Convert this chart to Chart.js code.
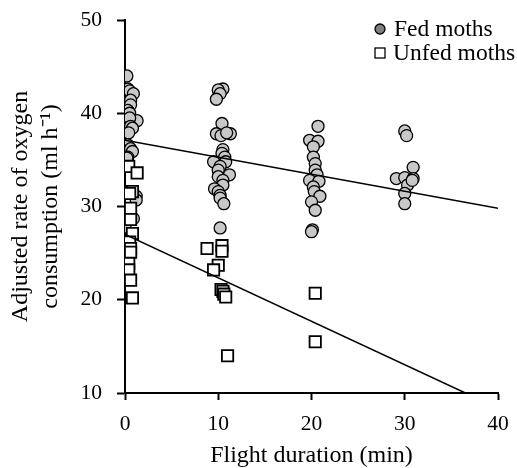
<!DOCTYPE html>
<html>
<head>
<meta charset="utf-8">
<script src="https://cdn.jsdelivr.net/npm/chart.js@4.4.1/dist/chart.umd.min.js"></script>
<style>
  html, body { margin: 0; padding: 0; background: #fff; }
  #wrap { width: 517px; height: 468px; }
</style>
</head>
<body>
<div id="wrap"><canvas id="moths"></canvas></div>
<script>
// values
const fedX = [0.2, 0.3, 0.5, 0.9, 0.6, 0.6, 0.3, 0.5, 1.3, 0.5, 0.6, 0.8, 0.4, 0.3, 0.6, 0.8, 0.3, 0.2, 1.2, 1.2, 0.9, 0.0,
  10.5, 10.0, 10.2, 9.8, 10.4, 9.8, 10.3, 11.3, 10.9, 10.5, 10.4, 10.7, 9.5, 10.8, 10.2, 10.0, 11.2, 10.0, 10.5, 10.5, 9.6, 10.0, 10.2, 10.2, 10.6, 10.2,
  20.7, 19.8, 20.7, 20.2, 20.2, 20.4, 20.4, 20.6, 19.8, 20.8, 20.2, 20.3, 20.9, 20.0, 20.4, 20.1, 20.0,
  30.0, 30.2, 30.9, 29.1, 30.0, 30.9, 30.3, 30.0, 30.0, 30.8];
const fedY = [44.0, 42.6, 42.4, 42.1, 41.4, 40.9, 40.3, 40.0, 39.2, 39.5, 38.6, 38.4, 37.9, 36.6, 36.2, 35.9, 35.3, 35.2, 31.1, 30.7, 28.7, 27.8,
  42.6, 42.5, 42.1, 41.5, 38.9, 37.8, 37.6, 37.8, 37.9, 36.1, 35.7, 35.3, 34.8, 34.8, 34.3, 33.9, 33.4, 33.2, 32.8, 32.3, 31.9, 31.6, 31.2, 30.9, 30.3, 27.7,
  38.6, 37.1, 37.0, 36.4, 35.3, 34.6, 33.9, 33.4, 32.8, 32.7, 32.1, 31.6, 31.1, 30.5, 29.6, 27.5, 27.3,
  38.1, 37.6, 34.2, 33.0, 33.1, 33.0, 32.3, 31.4, 30.3, 32.8];

const unfedX = [0.4, 1.3, 0.8, 0.5, 0.6, 0.6, 0.8, 0.5, 0.6, 0.6, 0.4, 0.4, 0.6, 0.8,
  8.8, 10.4, 10.4, 10.0, 9.5, 10.3, 10.5, 10.6, 10.8, 11.0,
  20.4, 20.4];
const unfedY = [34.3, 33.6, 31.6, 31.4, 29.8, 28.6, 27.1, 26.2, 25.5, 25.1, 23.9, 23.2, 22.1, 20.2,
  25.5, 25.8, 25.2, 23.7, 23.2, 21.1, 20.9, 20.6, 20.3, 14.0,
  20.7, 15.5];

// regression lines (end points)
const fedFitX = [0, 40];
const fedFitY = [37.1, 29.8];
const unfedFitX = [0, 36.5];
const unfedFitY = [27.0, 10];

const xTicks = [0, 10, 20, 30, 40];
const yTicks = [10, 20, 30, 40, 50];

const toPoints = (xs, ys) => xs.map((x, i) => ({ x: x, y: ys[i] }));
const serif = 'Liberation Serif, Times New Roman, serif';

// legend drawn inside the plot, top right
const cornerLegend = {
  id: 'cornerLegend',
  afterDraw(chart) {
    const ctx = chart.ctx;
    const ds = chart.data.datasets;
    ctx.save();
    ctx.font = '23.5px ' + serif;
    ctx.textBaseline = 'middle';
    ctx.lineWidth = 1.3;
    ctx.strokeStyle = '#000';
    // fed
    ctx.beginPath();
    ctx.arc(380, 29, 5, 0, Math.PI * 2);
    ctx.fillStyle = '#808080';
    ctx.fill();
    ctx.stroke();
    ctx.fillStyle = '#000';
    ctx.fillText(ds[2].label, 394, 30);
    // unfed
    ctx.fillStyle = '#fff';
    ctx.fillRect(375, 48, 10, 10);
    ctx.strokeRect(375, 48, 10, 10);
    ctx.fillStyle = '#000';
    ctx.fillText(ds[3].label, 393, 54);
    ctx.restore();
  }
};

new Chart(document.getElementById('moths'), {
  type: 'scatter',
  data: {
    datasets: [
      {
        type: 'line',
        label: 'fed fit',
        data: toPoints(fedFitX, fedFitY),
        borderColor: '#000',
        borderWidth: 1.5,
        pointRadius: 0,
        fill: false,
        order: 0
      },
      {
        type: 'line',
        label: 'unfed fit',
        data: toPoints(unfedFitX, unfedFitY),
        borderColor: '#000',
        borderWidth: 1.5,
        pointRadius: 0,
        fill: false,
        order: 0
      },
      {
        label: 'Fed moths',
        data: toPoints(fedX, fedY),
        pointStyle: 'circle',
        pointRadius: 6,
        backgroundColor: '#c8c8c8',
        borderColor: '#000',
        borderWidth: 1.3,
        order: 2
      },
      {
        label: 'Unfed moths',
        data: toPoints(unfedX, unfedY),
        pointStyle: 'rect',
        pointRadius: 8,
        backgroundColor: '#fff',
        borderColor: '#000',
        borderWidth: 1.8,
        order: 1
      }
    ]
  },
  options: {
    responsive: true,
    maintainAspectRatio: false,
    animation: false,
    layout: { padding: { top: 20, right: 19, left: 0, bottom: 0 } },
    plugins: {
      legend: { display: false },
      tooltip: { enabled: false }
    },
    scales: {
      x: {
        type: 'linear',
        min: 0,
        max: 40,
        afterBuildTicks: (scale) => { scale.ticks = xTicks.map(v => ({ value: v })); },
        afterFit: (scale) => {
          scale.height = 75;
          scale.paddingLeft = 0;
          scale.paddingRight = 0;
        },
        border: { display: true, color: '#000', width: 2 },
        grid: { drawOnChartArea: false, drawTicks: true, tickLength: 7, tickWidth: 2, tickColor: '#000' },
        ticks: { color: '#000', font: { family: serif, size: 21.5 }, padding: 11, maxRotation: 0 },
        title: {
          display: true,
          text: 'Flight duration (min)',
          color: '#000',
          font: { family: serif, size: 24, lineHeight: 1.0 },
          padding: { top: 0, bottom: 0 }
        }
      },
      y: {
        min: 10,
        max: 50,
        afterBuildTicks: (scale) => { scale.ticks = yTicks.map(v => ({ value: v })); },
        afterFit: (scale) => {
          scale.width = 125;
          scale.paddingTop = 0;
          scale.paddingBottom = 0;
        },
        border: { display: true, color: '#000', width: 2 },
        grid: { drawOnChartArea: false, drawTicks: true, tickLength: 8, tickWidth: 2, tickColor: '#000' },
        ticks: { color: '#000', font: { family: serif, size: 21.5 }, padding: 15 },
        title: {
          display: true,
          text: ['Adjusted rate of oxygen', 'consumption (ml h\u207B\u00B9)'],
          color: '#000',
          font: { family: serif, size: 24, lineHeight: 1.25 },
          padding: { top: 6, bottom: 0 }
        }
      }
    }
  },
  plugins: [cornerLegend]
});
</script>
</body>
</html>
